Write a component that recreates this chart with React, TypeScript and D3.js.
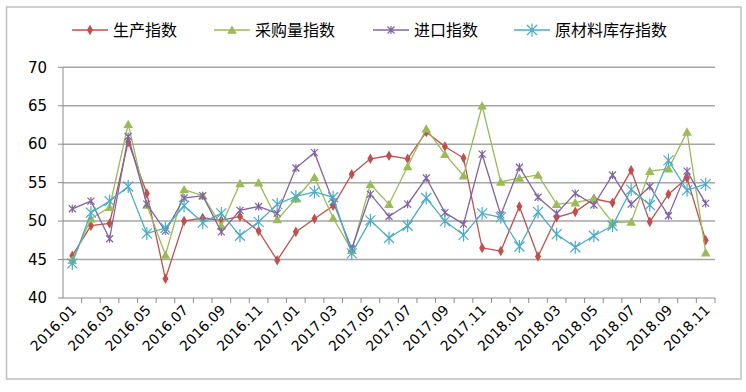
import React from "react";
import { scaleBand, scaleLinear, line, symbol, symbolDiamond, symbolTriangle } from "d3";

const months = [
  "2016.01", "2016.02", "2016.03", "2016.04", "2016.05", "2016.06", "2016.07", "2016.08", "2016.09", "2016.10", "2016.11", "2016.12",
  "2017.01", "2017.02", "2017.03", "2017.04", "2017.05", "2017.06", "2017.07", "2017.08", "2017.09", "2017.10", "2017.11", "2017.12",
  "2018.01", "2018.02", "2018.03", "2018.04", "2018.05", "2018.06", "2018.07", "2018.08", "2018.09", "2018.10", "2018.11",
];

const production = [
  45.5, 49.4, 49.7, 60.3, 53.6, 42.5, 50.0, 50.4, 50.1, 50.6, 48.7, 44.9,
  48.6, 50.3, 52.0, 56.1, 58.1, 58.5, 58.1, 61.6, 59.7, 58.2, 46.5, 46.1,
  51.9, 45.4, 50.5, 51.2, 52.9, 52.4, 56.6, 49.9, 53.5, 55.6, 47.5,
];
const purchase = [
  44.9, 50.3, 51.8, 62.6, 52.1, 45.6, 54.1, 53.3, 49.4, 54.9, 55.0, 50.2,
  52.9, 55.7, 50.4, 46.2, 54.8, 52.2, 57.1, 62.0, 58.7, 55.9, 65.0, 55.1,
  55.6, 56.0, 52.2, 52.4, 52.9, 49.8, 49.9, 56.5, 56.8, 61.6, 45.9,
];
const imports = [
  51.6, 52.6, 47.7, 61.0, 52.2, 48.7, 53.0, 53.3, 48.6, 51.4, 51.9, 51.0,
  56.9, 58.9, 52.5, 46.4, 53.5, 50.6, 52.2, 55.6, 51.1, 49.6, 58.7, 50.8,
  57.0, 53.1, 51.0, 53.6, 52.1, 56.0, 52.2, 54.5, 50.7, 56.5, 52.3,
];
const stock = [
  44.5, 51.1, 52.6, 54.5, 48.4, 49.1, 52.0, 49.8, 51.0, 48.1, 49.9, 52.2,
  53.2, 53.8, 53.1, 45.8, 50.1, 47.8, 49.4, 53.0, 50.0, 48.2, 51.0, 50.5,
  46.7, 51.2, 48.3, 46.6, 48.1, 49.4, 54.1, 52.1, 57.9, 54.0, 54.8,
];

const yTicks = [40, 45, 50, 55, 60, 65, 70];
const seriesNames = ["生产指数", "采购量指数", "进口指数", "原材料库存指数"];

const series = [
  { name: seriesNames[0], values: production, color: "#C0504D", marker: "diamond" },
  { name: seriesNames[1], values: purchase, color: "#9BBB59", marker: "triangle" },
  { name: seriesNames[2], values: imports, color: "#8064A2", marker: "star" },
  { name: seriesNames[3], values: stock, color: "#4BACC6", marker: "asterisk" },
];

const diamond = symbol().type(symbolDiamond).size(32)();
const triangle = symbol().type(symbolTriangle).size(40)();

function Marker({ kind, color, x, y }: { kind: string; color: string; x: number; y: number }) {
  const t = `translate(${x},${y})`;
  if (kind === "diamond") return <path d={diamond!} transform={t} fill={color} />;
  if (kind === "triangle") return <path d={triangle!} transform={`translate(${x},${y + 1})`} fill={color} />;
  if (kind === "star") {
    const r = 3.5;
    return (
      <path
        d={`M${-r},${-r}L${r},${r}M${-r},${r}L${r},${-r}M0,${-r - 0.5}L0,${r + 0.5}`}
        transform={t}
        stroke={color}
        strokeWidth={1.2}
        fill="none"
      />
    );
  }
  const r = 5;
  return (
    <path
      d={`M${-r},${-r}L${r},${r}M${-r},${r}L${r},${-r}M0,${-r - 1.5}L0,${r + 1.5}`}
      transform={t}
      stroke={color}
      strokeWidth={1.2}
      fill="none"
    />
  );
}

export default function App() {
  const width = 746;
  const height = 392;
  const plot = { left: 63, right: 715, top: 67.3, bottom: 298 };

  const x = scaleBand<string>().domain(months).range([plot.left, plot.right]);
  const bw = x.bandwidth();
  const cx = (m: string) => (x(m) as number) + bw / 2;
  const y = scaleLinear().domain([40, 70]).range([plot.bottom, plot.top]);

  const lineGen = line<number>()
    .x((_, i) => cx(months[i]))
    .y((d) => y(d));

  const legendX = [72, 214, 373, 514];
  const legendY = 30;

  return (
    <svg
      width={width}
      height={height}
      style={{ position: "absolute", left: 0, top: 0, background: "#fff" }}
    >
      <rect x={6.5} y={7} width={734.5} height={372} fill="#fff" stroke="#bfbfbf" strokeWidth={1.5} />

      {/* legend */}
      {series.map((s, i) => (
        <g key={s.name}>
          <line x1={legendX[i]} x2={legendX[i] + 36} y1={legendY} y2={legendY} stroke={s.color} strokeWidth={1.5} />
          <Marker kind={s.marker} color={s.color} x={legendX[i] + 18} y={legendY} />
          <text
            x={legendX[i] + 41}
            y={legendY}
            dy="0.35em"
            fontSize={16}
            fontFamily="'Noto Sans CJK SC', sans-serif"
            fill="#000"
          >
            {s.name}
          </text>
        </g>
      ))}

      {/* grid */}
      {yTicks.map((t) => (
        <g key={t}>
          {t > 40 && (
            <line x1={plot.left} x2={plot.right} y1={y(t)} y2={y(t)} stroke="#a6a6a6" strokeWidth={1.5} />
          )}
          <line x1={plot.left - 5} x2={plot.left} y1={y(t)} y2={y(t)} stroke="#8c8c8c" strokeWidth={1} />
          <text
            x={47}
            y={y(t)}
            dy="0.35em"
            textAnchor="end"
            fontSize={15}
            fontFamily="'DejaVu Sans', sans-serif"
            fill="#000"
          >
            {t}
          </text>
        </g>
      ))}

      {/* axes */}
      <line x1={plot.left} x2={plot.left} y1={plot.top} y2={plot.bottom} stroke="#8c8c8c" strokeWidth={1} />
      <line x1={plot.left} x2={plot.right} y1={plot.bottom} y2={plot.bottom} stroke="#8c8c8c" strokeWidth={1} />
      {months.map((m) => (
        <line key={m} x1={(x(m) as number) + bw} x2={(x(m) as number) + bw} y1={plot.bottom} y2={plot.bottom + 5} stroke="#8c8c8c" strokeWidth={1} />
      ))}
      {months.map((m, i) =>
        i % 2 === 0 ? (
          <text
            key={m}
            transform={`translate(${cx(m) + 5},${plot.bottom + 13}) rotate(-45)`}
            textAnchor="end"
            fontSize={14}
            fontFamily="'DejaVu Sans', sans-serif"
            fill="#000"
          >
            {m}
          </text>
        ) : null
      )}

      {/* series */}
      {series.map((s) => (
        <g key={s.name}>
          <path d={lineGen(s.values)!} fill="none" stroke={s.color} strokeWidth={1.3} />
          {s.values.map((v, i) => (
            <Marker key={i} kind={s.marker} color={s.color} x={cx(months[i])} y={y(v)} />
          ))}
        </g>
      ))}
    </svg>
  );
}
